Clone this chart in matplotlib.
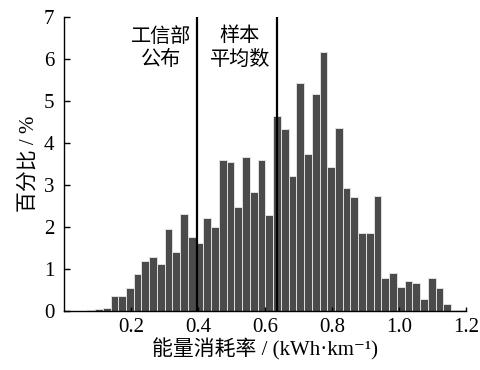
import matplotlib.pyplot as plt
import numpy as np

plt.rcParams['font.family'] = ['Liberation Serif', 'Noto Sans CJK SC', 'DejaVu Sans']

# histogram (bin start, bin width, percentage per bin)
bin_start = 0.0696
bin_width = 0.0231
percent = [0.03, 0.05, 0.08, 0.36, 0.37, 0.56, 0.88, 1.19, 1.29, 1.13,
           1.95, 1.40, 2.32, 1.76, 1.62, 2.21, 2.00, 3.60, 3.56, 2.48,
           3.68, 2.84, 3.60, 2.30, 4.65, 4.33, 3.21, 5.44, 3.74, 5.17,
           6.16, 3.44, 4.37, 2.94, 2.71, 1.85, 1.85, 2.75, 0.80, 0.90,
           0.58, 0.71, 0.66, 0.30, 0.78, 0.56, 0.18, 0.02, 0.02]

# reference lines
miit_value = 0.398     # 工信部公布
sample_mean = 0.636    # 样本平均数

xticks = [0.2, 0.4, 0.6, 0.8, 1.0, 1.2]
xticklabels = ['0.2', '0.4', '0.6', '0.8', '1.0', '1.2']
yticks = [0, 1, 2, 3, 4, 5, 6, 7]

fig = plt.figure(figsize=(4.81, 3.70), dpi=100)
ax = fig.add_axes([0.133, 0.159, 0.836, 0.795])

lefts = bin_start + bin_width * np.arange(len(percent))
ax.bar(lefts, percent, width=bin_width, align='edge',
       color='#4b4b4b', edgecolor='#e0e0e0', linewidth=0.7)

ax.axvline(miit_value, color='black', lw=1.6)
ax.axvline(sample_mean, color='black', lw=1.6)

ax.text(0.29, 6.27, '工信部\n公布', ha='center', va='center',
        fontsize=14.5, linespacing=1.15, family=['Noto Sans CJK SC'])
ax.text(0.525, 6.27, '样本\n平均数', ha='center', va='center',
        fontsize=14.5, linespacing=1.15, family=['Noto Sans CJK SC'])

ax.set_xlim(0, 1.2)
ax.set_ylim(0, 7)
ax.set_xticks(xticks)
ax.set_xticklabels(xticklabels)
ax.set_yticks(yticks)
ax.tick_params(axis='both', direction='in', labelsize=15, width=1)
ax.tick_params(axis='x', length=3, pad=5)
ax.tick_params(axis='y', length=4, pad=7)

for s in ['top', 'right']:
    ax.spines[s].set_visible(False)
for s in ['left', 'bottom']:
    ax.spines[s].set_linewidth(1)

ax.set_xlabel('能量消耗率 / (kWh·km⁻¹)', fontsize=15, labelpad=1)
ax.set_ylabel('百分比 / %', fontsize=15, labelpad=4)

fig.savefig('out.png', dpi=100)
